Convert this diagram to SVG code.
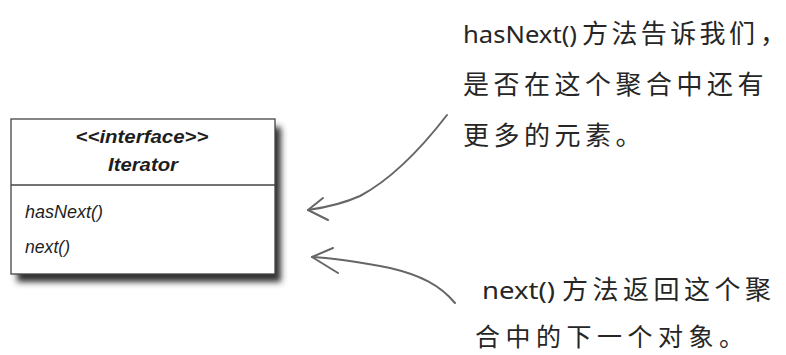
<svg xmlns="http://www.w3.org/2000/svg" width="786" height="355" viewBox="0 0 786 355">
<defs>
<filter id="blur" x="-10%" y="-10%" width="130%" height="130%"><feGaussianBlur stdDeviation="3"/></filter>
<style>
.box{fill:#fff;stroke:#444;stroke-width:1.3}
.uml{font-family:"Liberation Sans",Arial,sans-serif;font-style:italic;fill:#1e1e1e}
.hand{font-family:"Noto Sans CJK SC","Noto Sans",sans-serif;fill:#262626;font-size:26px;letter-spacing:4.5px}
.latin{font-family:"Noto Sans",sans-serif;fill:#262626;font-size:24px}
.arrow{fill:none;stroke:#666;stroke-width:2;stroke-linecap:round;stroke-linejoin:round}
</style>
</defs>
<g id="iterator">
<rect x="17" y="127" width="264" height="155" fill="#333" filter="url(#blur)"/>
<rect class="box" x="11" y="119" width="264" height="155"/>
<line x1="11" y1="185" x2="275" y2="185" stroke="#444" stroke-width="1.3"/>
<text class="uml" x="142" y="143" font-size="18" font-weight="bold" text-anchor="middle" textLength="133" lengthAdjust="spacingAndGlyphs">&lt;&lt;interface&gt;&gt;</text>
<text class="uml" x="143" y="171" font-size="19" font-weight="bold" text-anchor="middle" textLength="70" lengthAdjust="spacingAndGlyphs">Iterator</text>
<text class="uml" x="25" y="218" font-size="18" textLength="78" lengthAdjust="spacingAndGlyphs">hasNext()</text>
<text class="uml" x="25" y="253" font-size="18" textLength="45" lengthAdjust="spacingAndGlyphs">next()</text>
</g>
<g id="note-hasnext">
<text class="latin" x="463" y="43" textLength="114" lengthAdjust="spacingAndGlyphs">hasNext()</text>
<text class="hand" x="582" y="43" style="letter-spacing:3.4px">方法告诉我们</text>
<text class="hand" x="760" y="43" style="letter-spacing:0">，</text>
<text class="hand" x="463" y="94" style="letter-spacing:4.5px">是否在这个聚合中还有</text>
<text class="hand" x="463" y="145">更多的元素。</text>
</g>
<g id="note-next">
<text class="latin" x="482" y="299" textLength="73" lengthAdjust="spacingAndGlyphs">next()</text>
<text class="hand" x="562" y="299">方法返回这个聚</text>
<text class="hand" x="475" y="346" style="font-size:25px;letter-spacing:5.5px">合中的下一个对象。</text>
</g>
<g id="connectors">
<path class="arrow" d="M447,115 C420,150 390,180 360,196 C340,205 322,208 308,210"/>
<path class="arrow" d="M323,198 L308,210 L328,220"/>
<path class="arrow" d="M455,303 C440,285 420,275 390,268 C360,262 335,258 312,257"/>
<path class="arrow" d="M333,248 L312,257 L338,273"/>
</g>
</svg>
